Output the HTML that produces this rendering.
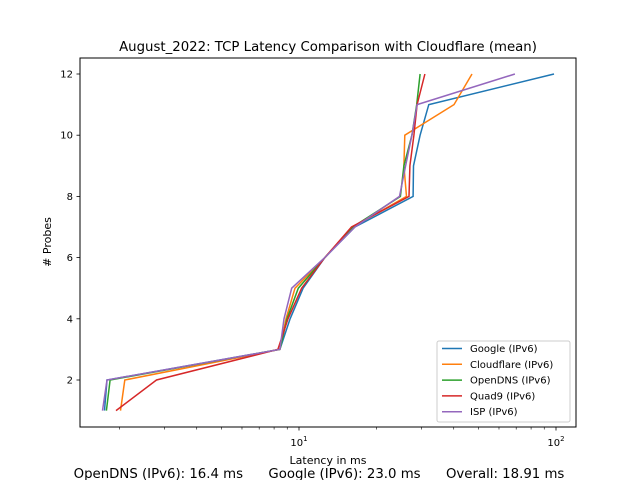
<!DOCTYPE html>
<html><head><meta charset="utf-8"><style>
body{margin:0;background:#fff;font-family:"Liberation Sans","DejaVu Sans",sans-serif}
svg text{font-family:"DejaVu Sans","Liberation Sans",sans-serif}
</style></head><body>
<svg id="chart" width="640" height="480" xmlns="http://www.w3.org/2000/svg">
<rect width="640" height="480" fill="#fff"/>
<text x="328" y="51" font-size="13.3" text-anchor="middle">August_2022: TCP Latency Comparison with Cloudflare (mean)</text>
<g id="plot"></g>
<rect x="80" y="58" width="496" height="369" fill="none" stroke="#000" stroke-width="1"/>
<text x="328" y="464" font-size="11" text-anchor="middle">Latency in ms</text>
<text transform="translate(51,242) rotate(-90)" font-size="11" text-anchor="middle"># Probes</text>
<g id="legend"></g>
<text x="319" y="478" font-size="13.3" text-anchor="middle" xml:space="preserve">OpenDNS (IPv6): 16.4 ms      Google (IPv6): 23.0 ms      Overall: 18.91 ms</text>
</svg>
<script>
const probes = [1,2,3,4,5,6,7,8,9,10,11,12];
const seriesNames = ["Google (IPv6)","Cloudflare (IPv6)","OpenDNS (IPv6)","Quad9 (IPv6)","ISP (IPv6)"];
const google = [1.75,1.79,8.43,9.23,10.37,12.6,16.5,27.8,27.9,29.6,32.0,98.2];
const cloudflare = [2.02,2.10,8.43,8.90,9.65,12.6,16.2,26.2,25.6,25.8,40.1,47.1];
const opendns = [1.78,1.84,8.43,8.98,9.94,12.6,16.2,24.8,25.6,27.5,28.7,29.6];
const quad9 = [1.94,2.79,8.28,9.06,10.24,12.6,16.0,26.8,27.0,28.0,28.8,30.9];
const isp = [1.72,1.79,8.43,8.74,9.37,12.6,16.5,24.6,26.0,27.5,28.8,69.2];
const xTicks = [10,100];
const yTicks = [2,4,6,8,10,12];
const colors = ["#1f77b4","#ff7f0e","#2ca02c","#d62728","#9467bd"];
const series = [google,cloudflare,opendns,quad9,isp];
const NS="http://www.w3.org/2000/svg";
function xs(v){return 42+257*Math.log10(v);}
function ys(v){return 410.6-(v-1)*30.6;}
function mk(t,a,p){const e=document.createElementNS(NS,t);for(const k in a)e.setAttribute(k,a[k]);p.appendChild(e);return e;}
const svg=document.getElementById('chart');
const plot=document.getElementById('plot');
for(let d=1;d<=100;d*=10){for(let m=2;m<=9;m++){const v=d*m;const x=xs(v);if(x<80||x>576)continue;
 const t=mk('line',{x1:x,x2:x,y1:427,y2:429.5,stroke:'#000','stroke-width':0.6},svg);
 
 }}
xTicks.forEach(v=>{const x=xs(v);
 const t=mk('line',{x1:x,x2:x,y1:427,y2:430.5,stroke:'#000','stroke-width':0.8},svg);
 
 
 const l=mk('text',{x:x,y:446,'font-size':10,'text-anchor':'middle'},svg);
 
 
 l.innerHTML='10<tspan dy="-5" font-size="7">'+Math.round(Math.log10(v))+'</tspan>';});
yTicks.forEach(v=>{const y=ys(v);
 const t=mk('line',{x1:76.5,x2:80,y1:y,y2:y,stroke:'#000','stroke-width':0.8},svg);
 
 
 const l=mk('text',{x:73,y:y+3.5,'font-size':10,'text-anchor':'end'},svg);
 
 
 l.textContent=v;});
series.forEach((s,i)=>{const pts=s.map((v,j)=>xs(v).toFixed(1)+','+ys(probes[j]).toFixed(1)).join(' ');
 const p=mk('polyline',{points:pts,fill:'none',stroke:colors[i],'stroke-width':1.5},plot);
 
 });
const lg=document.getElementById('legend');
const box=mk('rect',{x:437,y:341,width:133,height:81,rx:2,fill:'#fff','fill-opacity':0.8,stroke:'#ccc'},lg);


seriesNames.forEach((n,i)=>{const y=348.5+i*15.8;
 const ln=mk('line',{x1:442,x2:462,y1:y,y2:y,stroke:colors[i],'stroke-width':1.5},lg);
 
 
 const t=mk('text',{x:470,y:y+3.5,'font-size':10},lg);
 
 
 t.textContent=n;});
</script>
</body></html>
